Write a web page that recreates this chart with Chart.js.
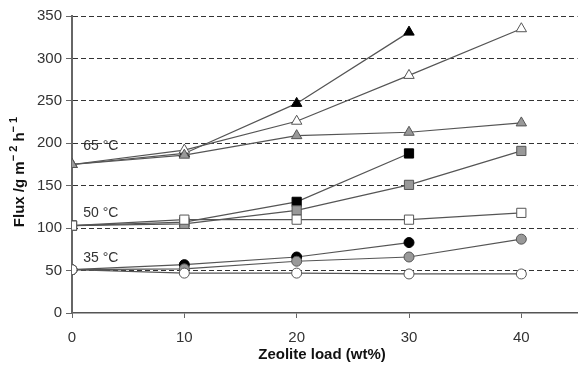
<!DOCTYPE html>
<html>
<head>
<meta charset="utf-8">
<script src="https://cdn.jsdelivr.net/npm/chart.js@4/dist/chart.umd.min.js"></script>
<style>
  html, body { margin: 0; padding: 0; background: #fff; }
  #wrap { width: 585px; height: 368px; }
</style>
</head>
<body>
<div id="wrap"><canvas id="myChart"></canvas></div>
<script>
// zeolite load (wt%)
var loads = [0, 10, 20, 30, 40];

// 65 °C – triangles
var t65Black = [175, 188, 247, 331];
var t65White = [175, 192, 226, 280, 335];
var t65Grey  = [175, 186, 209, 213, 224];
// 50 °C – squares
var s50Black = [103, 107, 131, 188];
var s50Grey  = [103, 105, 121, 151, 191];
var s50White = [103, 110, 110, 110, 118];
// 35 °C – circles
var c35Black = [51, 57, 66, 83];
var c35Grey  = [51, 52, 61, 66, 87];
var c35White = [51, 47, 47, 46, 46];

var yTicks = [0, 50, 100, 150, 200, 250, 300, 350];
var tempLabels = ['65 °C', '50 °C', '35 °C'];
var tempLabelY = [197, 118, 65];

function pts(vals) {
  return vals.map(function (v, i) { return { x: loads[i], y: v }; });
}

function series(vals, shape, fill, r) {
  return {
    data: pts(vals),
    pointStyle: shape,
    pointRadius: r,
    pointBackgroundColor: fill,
    pointBorderColor: fill === '#000' ? '#000' : '#555',
    pointBorderWidth: 1,
    borderColor: '#555',
    borderWidth: 1.2,
    showLine: true,
    tension: 0
  };
}

var txtFont = '"Liberation Sans", Arial, Helvetica, sans-serif';

var labelsPlugin = {
  id: 'labels',
  afterDraw: function (chart) {
    var c = chart.ctx, xs = chart.scales.x, ys = chart.scales.y;
    c.save();
    c.fillStyle = '#333';
    c.font = '14px ' + txtFont;
    c.textAlign = 'left';
    c.textBaseline = 'middle';
    tempLabels.forEach(function (t, i) {
      c.fillText(t, xs.getPixelForValue(1), ys.getPixelForValue(tempLabelY[i]));
    });
    // axis titles
    c.fillStyle = '#111';
    c.font = 'bold 15px ' + txtFont;
    c.textAlign = 'center';
    c.textBaseline = 'alphabetic';
    c.fillText('Zeolite load (wt%)', 322, 359);

    // y title with superscripts
    var parts = [
      ['Flux /g m', 'bold 15px ', 0],
      ['\u2212 2', 'bold 11px ', -7],
      [' h', 'bold 15px ', 0],
      ['\u2212 1', 'bold 11px ', -7]
    ];
    var total = 0;
    parts.forEach(function (p) { c.font = p[1] + txtFont; total += c.measureText(p[0]).width; });
    c.translate(24, 172);
    c.rotate(-Math.PI / 2);
    c.textAlign = 'left';
    var px = -total / 2;
    parts.forEach(function (p) {
      c.font = p[1] + txtFont;
      c.fillText(p[0], px, p[2]);
      px += c.measureText(p[0]).width;
    });
    c.restore();
  }
};

var ctx = document.getElementById('myChart').getContext('2d');
var chart = new Chart(ctx, {
  type: 'scatter',
  data: {
    datasets: [
      series(c35White, 'circle', '#fff', 5),
      series(c35Grey, 'circle', '#999', 5),
      series(c35Black, 'circle', '#000', 5),
      series(s50White, 'rect', '#fff', 6.5),
      series(s50Grey, 'rect', '#999', 6.5),
      series(s50Black, 'rect', '#000', 6.5),
      series(t65Grey, 'triangle', '#999', 6),
      series(t65White, 'triangle', '#fff', 6),
      series(t65Black, 'triangle', '#000', 6)
    ]
  },
  options: {
    responsive: true,
    maintainAspectRatio: false,
    animation: false,
    layout: { padding: { top: 16, right: 0, left: 0, bottom: 0 } },
    plugins: { legend: { display: false }, tooltip: { enabled: false } },
    scales: {
      x: {
        type: 'linear',
        min: 0,
        max: 45,
        afterBuildTicks: function (s) {
          s.ticks = loads.map(function (v) { return { value: v }; });
        },
        afterFit: function (s) { s.height = 55; },
        ticks: { color: '#333', font: { size: 15, family: txtFont }, padding: 11, maxRotation: 0 },
        grid: { drawOnChartArea: false, drawTicks: true, tickLength: 5, tickColor: '#666' },
        border: { color: '#555', width: 1.5 }
      },
      y: {
        min: 0,
        max: 350,
        afterBuildTicks: function (s) {
          s.ticks = yTicks.map(function (v) { return { value: v }; });
        },
        afterFit: function (s) { s.width = 72; },
        ticks: { color: '#333', font: { size: 15, family: txtFont }, padding: 4 },
        grid: {
          color: function (c) { return c.tick && c.tick.value === 0 ? 'rgba(0,0,0,0)' : '#333'; },
          lineWidth: 1,
          drawTicks: true,
          tickLength: 6,
          tickColor: '#666',
          tickBorderDash: []
        },
        border: { color: '#666', width: 2, dash: [5, 3] }
      }
    }
  },
  plugins: [labelsPlugin]
});
</script>
</body>
</html>
